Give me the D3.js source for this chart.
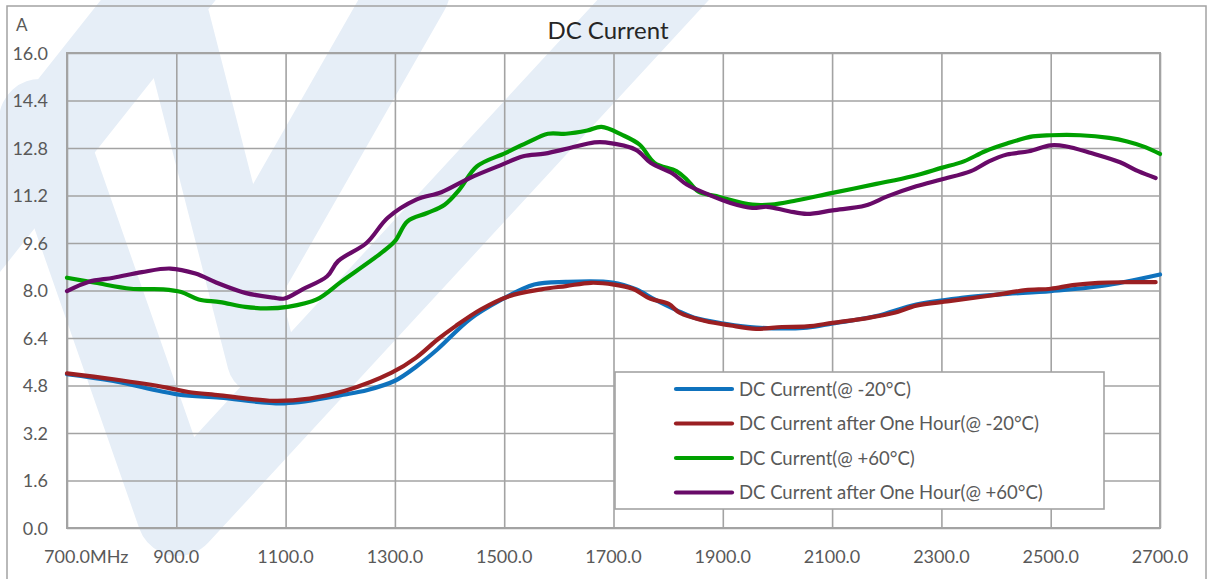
<!DOCTYPE html>
<html>
<head>
<meta charset="utf-8">
<script src="https://d3js.org/d3.v7.min.js"></script>
<style>
  body { margin: 0; background: #fff; }
  text { font-family: Lato, "Open Sans", sans-serif; }
</style>
</head>
<body>
<script>
// values (MHz, A)
var freqM20 = [700, 785, 902, 980, 1098, 1209, 1250, 1300, 1340, 1378, 1437, 1494, 1555, 1613, 1698, 1741, 1775, 1815, 1848, 1901, 1961, 2054, 2101, 2181, 2254, 2341, 2407, 2500, 2593, 2700];
var curM20  = [5.18, 4.95, 4.50, 4.39, 4.20, 4.50, 4.65, 4.96, 5.45, 6.02, 7.03, 7.68, 8.20, 8.29, 8.27, 8.04, 7.70, 7.34, 7.08, 6.89, 6.75, 6.75, 6.89, 7.14, 7.53, 7.76, 7.87, 7.98, 8.15, 8.54];

var freqM20h = [700, 785, 883, 922, 980, 1078, 1144, 1209, 1294, 1339, 1378, 1411, 1457, 1509, 1568, 1613, 1659, 1701, 1735, 1768, 1801, 1821, 1868, 1914, 1961, 2008, 2054, 2101, 2167, 2214, 2254, 2314, 2394, 2454, 2500, 2540, 2587, 2640, 2692];
var curM20h  = [5.21, 5.01, 4.73, 4.58, 4.47, 4.28, 4.36, 4.62, 5.23, 5.74, 6.35, 6.80, 7.36, 7.81, 8.04, 8.15, 8.26, 8.20, 8.06, 7.72, 7.55, 7.25, 6.97, 6.82, 6.71, 6.77, 6.79, 6.91, 7.08, 7.25, 7.49, 7.64, 7.84, 8.01, 8.06, 8.18, 8.26, 8.28, 8.28];

var freqP60 = [700, 752, 817, 876, 909, 941, 980, 1026, 1065, 1104, 1157, 1202, 1274, 1300, 1323, 1359, 1391, 1418, 1450, 1502, 1541, 1580, 1613, 1652, 1678, 1715, 1748, 1775, 1815, 1834, 1855, 1894, 1954, 1988, 2034, 2101, 2181, 2247, 2300, 2341, 2380, 2420, 2467, 2500, 2554, 2607, 2640, 2673, 2700];
var curP60  = [8.43, 8.26, 8.06, 8.04, 7.95, 7.70, 7.61, 7.45, 7.40, 7.45, 7.70, 8.30, 9.25, 9.66, 10.33, 10.61, 10.89, 11.40, 12.18, 12.63, 12.97, 13.28, 13.28, 13.39, 13.51, 13.25, 12.91, 12.30, 12.02, 11.74, 11.34, 11.15, 10.89, 10.89, 11.03, 11.29, 11.59, 11.85, 12.13, 12.35, 12.69, 12.95, 13.19, 13.23, 13.23, 13.14, 13.02, 12.83, 12.60];

var freqP60h = [700, 739, 785, 837, 889, 935, 974, 1026, 1078, 1098, 1131, 1176, 1196, 1248, 1287, 1339, 1385, 1437, 1496, 1535, 1574, 1620, 1665, 1685, 1741, 1768, 1808, 1834, 1874, 1914, 1954, 1981, 2021, 2054, 2101, 2161, 2201, 2254, 2300, 2354, 2387, 2420, 2460, 2500, 2527, 2574, 2627, 2660, 2692];
var curP60h  = [7.98, 8.29, 8.43, 8.62, 8.74, 8.57, 8.26, 7.92, 7.76, 7.73, 8.04, 8.48, 8.99, 9.60, 10.45, 11.06, 11.31, 11.79, 12.24, 12.52, 12.61, 12.80, 12.99, 12.99, 12.74, 12.30, 11.94, 11.57, 11.23, 10.95, 10.78, 10.82, 10.67, 10.58, 10.70, 10.86, 11.17, 11.51, 11.74, 12.02, 12.35, 12.58, 12.69, 12.89, 12.86, 12.63, 12.32, 12.02, 11.79];

var seriesNames = ["DC Current(@ -20°C)", "DC Current after One Hour(@ -20°C)", "DC Current(@ +60°C)", "DC Current after One Hour(@ +60°C)"];
var seriesColors = ["#0f72bd", "#9a1f22", "#00a000", "#680a68"];

var xTicks = [700, 900, 1100, 1300, 1500, 1700, 1900, 2100, 2300, 2500, 2700];
var yTicks = [0, 1.6, 3.2, 4.8, 6.4, 8.0, 9.6, 11.2, 12.8, 14.4, 16.0];

var W = 1212, H = 579;
var margin = {top: 53, left: 67};
var plotW = 1093, plotH = 475;

var svg = d3.select("body").append("svg")
  .attr("width", W)
  .attr("height", H);

// faint logo watermark behind the chart
var wm = svg.append("g")
  .attr("fill", "none")
  .attr("stroke", "#e6eef7")
  .attr("stroke-linecap", "round")
  .attr("stroke-linejoin", "round");
wm.append("path").attr("d", "M190,-40 L-40,250").attr("stroke-width", 90);
wm.append("path").attr("d", "M40,120 L178,515 L690,-40").attr("stroke-width", 82);
wm.append("path").attr("d", "M175,20 L262,360").attr("stroke-width", 70);
wm.append("path").attr("d", "M410,-10 L250,270").attr("stroke-width", 80);

// outer chart frame
svg.append("rect")
  .attr("x", 7).attr("y", 6)
  .attr("width", 1199).attr("height", 590)
  .attr("fill", "none")
  .attr("stroke", "#a3a3a3")
  .attr("stroke-width", 1.5);

var xScale = d3.scaleLinear().domain([700, 2700]).range([0, plotW]);
var yScale = d3.scaleLinear().domain([0, 16]).range([plotH, 0]);

var g = svg.append("g")
  .attr("transform", "translate(" + margin.left + "," + margin.top + ")");

// gridlines
g.append("g")
  .call(d3.axisLeft(yScale).tickValues(yTicks).tickSize(-plotW).tickFormat(""))
  .call(function(s) { s.select(".domain").remove(); })
  .selectAll("line").attr("stroke", "#a3a3a3").attr("stroke-width", 1.6);

g.append("g")
  .attr("transform", "translate(0," + plotH + ")")
  .call(d3.axisBottom(xScale).tickValues(xTicks).tickSize(-plotH).tickFormat(""))
  .call(function(s) { s.select(".domain").remove(); })
  .selectAll("line").attr("stroke", "#a3a3a3").attr("stroke-width", 1.6);

g.append("rect")
  .attr("width", plotW).attr("height", plotH)
  .attr("fill", "none")
  .attr("stroke", "#a3a3a3")
  .attr("stroke-width", 2);

// tick labels
g.selectAll(".ylab").data(yTicks).enter().append("text")
  .attr("x", -19)
  .attr("y", function(d) { return yScale(d) + 6.5; })
  .attr("text-anchor", "end")
  .attr("font-size", 18)
  .attr("fill", "#595959")
  .text(function(d) { return d.toFixed(1); });

var xl = g.selectAll(".xlab").data(xTicks).enter().append("text")
  .attr("y", 510)
  .attr("font-size", 18)
  .attr("fill", "#595959")
  .text(function(d) { return d.toFixed(1); });
xl.each(function(d) {
  var w = this.getComputedTextLength();
  d3.select(this).attr("x", xScale(d) - w / 2);
});
xl.filter(function(d) { return d === 700; }).append("tspan").text("MHz");

// series
var allData = [
  d3.zip(freqM20, curM20),
  d3.zip(freqM20h, curM20h),
  d3.zip(freqP60, curP60),
  d3.zip(freqP60h, curP60h)
];

var line = d3.line()
  .x(function(d) { return xScale(d[0]); })
  .y(function(d) { return yScale(d[1]); })
  .curve(d3.curveCatmullRom.alpha(0.5));

allData.forEach(function(data, i) {
  g.append("path")
    .datum(data)
    .attr("fill", "none")
    .attr("stroke", seriesColors[i])
    .attr("stroke-width", 4.2)
    .attr("stroke-linejoin", "round")
    .attr("stroke-linecap", "round")
    .attr("d", line);
});

// title and unit
svg.append("text")
  .attr("x", 608).attr("y", 39)
  .attr("text-anchor", "middle")
  .attr("font-size", 24)
  .attr("fill", "#262626")
  .text("DC Current");

svg.append("text")
  .attr("x", 16).attr("y", 31)
  .attr("font-size", 17)
  .attr("fill", "#595959")
  .text("A");

// legend
var legend = svg.append("g").attr("transform", "translate(615,372)");
legend.append("rect")
  .attr("width", 489).attr("height", 137)
  .attr("fill", "#fff")
  .attr("stroke", "#a3a3a3")
  .attr("stroke-width", 1.6);

seriesNames.forEach(function(name, i) {
  var yy = 17 + i * 34.5;
  legend.append("line")
    .attr("x1", 61).attr("x2", 117)
    .attr("y1", yy).attr("y2", yy)
    .attr("stroke", seriesColors[i])
    .attr("stroke-width", 4.2)
    .attr("stroke-linecap", "round");
  legend.append("text")
    .attr("x", 124).attr("y", yy + 6.5)
    .attr("font-size", 18.5)
    .attr("fill", "#595959")
    .text(name);
});
</script>
</body>
</html>
